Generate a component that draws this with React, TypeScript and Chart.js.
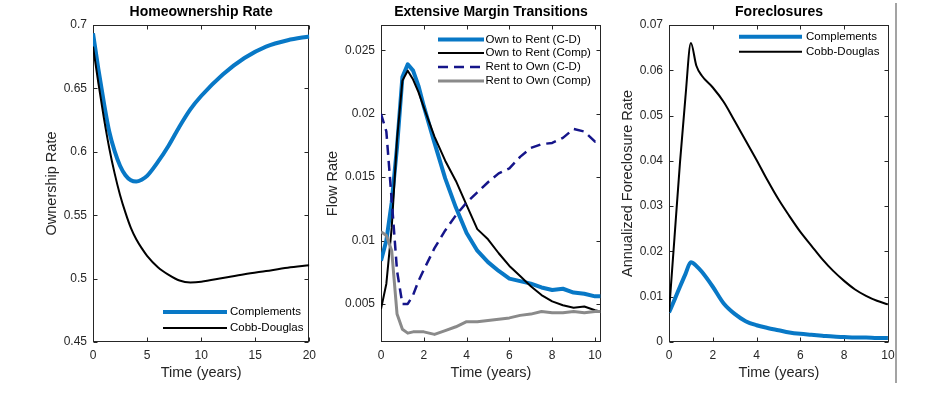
import React, { useEffect, useRef } from "react";
import { Chart, registerables } from "chart.js";

Chart.register(...registerables);

// ---------- Panel 1: Homeownership Rate ----------
const ownTime = [0, 0.5, 1, 1.5, 2, 2.5, 3, 3.5, 4, 4.5, 5, 6, 7, 8, 9, 10, 12, 14, 16, 18, 20];
const ownComplements = [0.6935, 0.665, 0.639, 0.616, 0.6005, 0.589, 0.5815, 0.5775, 0.5765, 0.578, 0.581, 0.592, 0.605, 0.62, 0.6335, 0.644, 0.661, 0.674, 0.683, 0.688, 0.691];
const ownCobbDouglas = [0.683, 0.654, 0.627, 0.603, 0.583, 0.566, 0.552, 0.54, 0.531, 0.524, 0.518, 0.509, 0.503, 0.4985, 0.497, 0.4975, 0.5005, 0.5035, 0.506, 0.5085, 0.5105];
const ownXTicks = [0, 5, 10, 15, 20];
const ownYTicks = [0.45, 0.5, 0.55, 0.6, 0.65, 0.7];

// ---------- Panel 2: Extensive Margin Transitions ----------
const flowTime = [0, 0.25, 0.5, 0.75, 1, 1.25, 1.5, 1.75, 2, 2.5, 3, 3.5, 4, 4.5, 5, 5.5, 6, 6.5, 7, 7.5, 8, 8.5, 9, 9.5, 10, 10.25];
const flowOwnToRentCD = [0.0084, 0.01, 0.013, 0.0174, 0.0229, 0.0239, 0.0234, 0.0222, 0.0206, 0.0177, 0.0149, 0.0126, 0.0106, 0.0092, 0.0083, 0.0076, 0.007, 0.0068, 0.0066, 0.0063, 0.0061, 0.0062, 0.0059, 0.0058, 0.0056, 0.0056];
const flowOwnToRentComp = [0.0046, 0.0066, 0.011, 0.018, 0.0226, 0.0234, 0.0227, 0.0217, 0.0205, 0.0182, 0.0163, 0.0147, 0.0128, 0.0109, 0.0101, 0.009, 0.008, 0.0072, 0.0064, 0.0057, 0.0052, 0.0049, 0.0047, 0.0048, 0.0045, 0.0044];
const flowRentToOwnCD = [0.02, 0.0186, 0.0132, 0.0076, 0.005, 0.005, 0.0057, 0.0068, 0.0077, 0.0094, 0.0108, 0.012, 0.013, 0.0138, 0.0146, 0.0153, 0.0157, 0.0166, 0.0173, 0.0176, 0.0177, 0.0181, 0.0188, 0.0186, 0.0178, 0.0178];
const flowRentToOwnComp = [0.0107, 0.0104, 0.0092, 0.0042, 0.003, 0.0027, 0.0028, 0.0028, 0.0028, 0.0026, 0.0029, 0.0032, 0.0036, 0.0036, 0.0037, 0.0038, 0.0039, 0.0041, 0.0042, 0.0044, 0.0043, 0.0043, 0.0044, 0.0043, 0.0044, 0.0044];
const flowXTicks = [0, 2, 4, 6, 8, 10];
const flowYTicks = [0.005, 0.01, 0.015, 0.02, 0.025];

// ---------- Panel 3: Foreclosures ----------
const fcTime = [0, 0.25, 0.5, 0.75, 1, 1.25, 1.5, 2, 2.5, 3, 3.5, 4, 4.5, 5, 5.5, 6, 6.5, 7, 7.5, 8, 8.5, 9, 9.5, 10];
const fcComplements = [0.0065, 0.0093, 0.0122, 0.015, 0.0176, 0.0168, 0.0155, 0.0122, 0.0085, 0.0062, 0.0046, 0.0037, 0.0031, 0.0026, 0.0021, 0.0018, 0.0016, 0.0014, 0.0012, 0.0011, 0.001, 0.001, 0.0009, 0.0009];
const fcCobbDouglas = [0.0066, 0.023, 0.0395, 0.054, 0.066, 0.061, 0.0588, 0.0562, 0.053, 0.0488, 0.0445, 0.0402, 0.0357, 0.0315, 0.0278, 0.0243, 0.0213, 0.0183, 0.0157, 0.0135, 0.0116, 0.0102, 0.0091, 0.0083];
const fcXTicks = [0, 2, 4, 6, 8, 10];
const fcYTicks = [0, 0.01, 0.02, 0.03, 0.04, 0.05, 0.06, 0.07];

// ---------- styling ----------
const FONT = '"Liberation Sans", Arial, Helvetica, sans-serif';
const AXIS_COLOR = "#262626";
const BLUE = "#0878c6";
const BLACK = "#000000";
const NAVY = "#15158a";
const GRAY = "#8a8a8a";
const H = 393;

const toPoints = (xs: number[], ys: number[]) => xs.map((x, i) => ({ x, y: ys[i] }));
const fmt = (v: number) => String(parseFloat(Number(v).toFixed(6)));

const framePlugin = {
  id: "frame",
  beforeDatasetsDraw(chart: any) {
    const { ctx, chartArea: a, scales } = chart;
    ctx.save();
    ctx.strokeStyle = AXIS_COLOR;
    ctx.lineWidth = 1;
    const L = Math.round(a.left) + 0.5;
    const R = Math.round(a.right) - 0.5;
    const T = Math.round(a.top) + 0.5;
    const B = Math.round(a.bottom) - 0.5;
    ctx.strokeRect(L, T, R - L, B - T);
    const tl = 4;
    ctx.beginPath();
    scales.x.ticks.forEach((t: any) => {
      const px = Math.round(scales.x.getPixelForValue(t.value)) + 0.5;
      ctx.moveTo(px, B);
      ctx.lineTo(px, B - tl);
      ctx.moveTo(px, T);
      ctx.lineTo(px, T + tl);
    });
    scales.y.ticks.forEach((t: any) => {
      const py = Math.round(scales.y.getPixelForValue(t.value)) + 0.5;
      ctx.moveTo(L, py);
      ctx.lineTo(L + tl, py);
      ctx.moveTo(R, py);
      ctx.lineTo(R - tl, py);
    });
    ctx.stroke();
    ctx.restore();
  },
};

const legendPlugin = {
  id: "panelLegend",
  afterDraw(chart: any, _args: any, opts: any) {
    const { ctx } = chart;
    ctx.save();
    chart.data.datasets.forEach((ds: any, i: number) => {
      const y = opts.rows[i];
      ctx.beginPath();
      ctx.strokeStyle = ds.borderColor;
      ctx.lineWidth = ds.borderWidth;
      ctx.setLineDash(ds.borderDash || []);
      ctx.moveTo(opts.x1, y);
      ctx.lineTo(opts.x2, y);
      ctx.stroke();
      ctx.setLineDash([]);
      ctx.fillStyle = "#000";
      ctx.font = `11.5px ${FONT}`;
      ctx.textBaseline = "middle";
      ctx.textAlign = "left";
      ctx.fillText(ds.label, opts.textX, y);
    });
    ctx.restore();
  },
};

type Series = { label: string; x: number[]; y: number[]; color: string; width: number; dash?: number[]; smooth?: boolean };

type PanelSpec = {
  left: number;
  width: number;
  yAxisWidth: number;
  padRight: number;
  yTitlePad: number;
  title: string;
  yTitle: string;
  xMin: number;
  xMax: number;
  yMin: number;
  yMax: number;
  xTicks: number[];
  yTicks: number[];
  series: Series[];
  legend: { x1: number; x2: number; textX: number; rows: number[] };
};

function buildConfig(spec: PanelSpec): any {
  const n = spec.series.length;
  return {
    type: "line",
    data: {
      datasets: spec.series.map((s, i) => ({
        label: s.label,
        data: toPoints(s.x, s.y),
        borderColor: s.color,
        backgroundColor: s.color,
        borderWidth: s.width,
        borderDash: s.dash || [],
        borderJoinStyle: "round",
        pointRadius: 0,
        fill: false,
        tension: s.smooth ? 0.4 : 0,
        cubicInterpolationMode: s.smooth ? "monotone" : "default",
        order: n - i,
      })),
    },
    options: {
      responsive: false,
      animation: false,
      events: [],
      layout: { padding: { left: 0, right: spec.padRight, top: 0, bottom: 0 } },
      plugins: {
        legend: { display: false },
        tooltip: { enabled: false },
        title: {
          display: true,
          text: spec.title,
          fullSize: false,
          color: "#000",
          font: { family: FONT, size: 14, weight: "bold", lineHeight: 1.2 },
          padding: { top: 4.1, bottom: 4.1 },
        },
        panelLegend: spec.legend,
      },
      scales: {
        x: {
          type: "linear",
          min: spec.xMin,
          max: spec.xMax,
          grid: { display: false, drawTicks: false },
          border: { display: false },
          ticks: {
            color: AXIS_COLOR,
            font: { family: FONT, size: 12 },
            padding: 6,
            maxRotation: 0,
            autoSkip: false,
            callback: (v: number) => fmt(v),
          },
          afterBuildTicks: (s: any) => {
            s.ticks = spec.xTicks.map((v) => ({ value: v }));
          },
          afterFit: (s: any) => {
            s.height = 51;
          },
          title: {
            display: true,
            text: "Time (years)",
            color: AXIS_COLOR,
            font: { family: FONT, size: 14.5, lineHeight: 1.2 },
            padding: { top: 0, bottom: 11.3 },
          },
        },
        y: {
          type: "linear",
          min: spec.yMin,
          max: spec.yMax,
          grid: { display: false, drawTicks: false },
          border: { display: false },
          ticks: {
            color: AXIS_COLOR,
            font: { family: FONT, size: 12 },
            padding: 6,
            autoSkip: false,
            callback: (v: number) => fmt(v),
          },
          afterBuildTicks: (s: any) => {
            s.ticks = spec.yTicks.map((v) => ({ value: v }));
          },
          afterFit: (s: any) => {
            s.width = spec.yAxisWidth;
          },
          title: {
            display: true,
            text: spec.yTitle,
            color: AXIS_COLOR,
            font: { family: FONT, size: 14.5, lineHeight: 1.2 },
            padding: { top: spec.yTitlePad, bottom: 0 },
          },
        },
      },
    },
    plugins: [framePlugin, legendPlugin],
  };
}

const panels: PanelSpec[] = [
  {
    left: 0,
    width: 322,
    yAxisWidth: 93,
    padRight: 10,
    yTitlePad: 43.3,
    title: "Homeownership Rate",
    yTitle: "Ownership Rate",
    xMin: 0,
    xMax: 20,
    yMin: 0.45,
    yMax: 0.7,
    xTicks: ownXTicks,
    yTicks: ownYTicks,
    series: [
      { label: "Complements", x: ownTime, y: ownComplements, color: BLUE, width: 4, smooth: true },
      { label: "Cobb-Douglas", x: ownTime, y: ownCobbDouglas, color: BLACK, width: 2, smooth: true },
    ],
    legend: { x1: 163, x2: 227, textX: 230, rows: [312, 328] },
  },
  {
    left: 322,
    width: 290,
    yAxisWidth: 59,
    padRight: 11,
    yTitlePad: 2,
    title: "Extensive Margin Transitions",
    yTitle: "Flow Rate",
    xMin: 0,
    xMax: 10.28,
    yMin: 0.002,
    yMax: 0.027,
    xTicks: flowXTicks,
    yTicks: flowYTicks,
    series: [
      { label: "Own to Rent (C-D)", x: flowTime, y: flowOwnToRentCD, color: BLUE, width: 4 },
      { label: "Own to Rent (Comp)", x: flowTime, y: flowOwnToRentComp, color: BLACK, width: 2 },
      { label: "Rent to Own (C-D)", x: flowTime, y: flowRentToOwnCD, color: NAVY, width: 2.5, dash: [10, 6] },
      { label: "Rent to Own (Comp)", x: flowTime, y: flowRentToOwnComp, color: GRAY, width: 3 },
    ],
    legend: { x1: 438 - 322, x2: 484 - 322, textX: 485.5 - 322, rows: [39.5, 53, 67, 81] },
  },
  {
    left: 612,
    width: 339,
    yAxisWidth: 57,
    padRight: 62,
    yTitlePad: 7.3,
    title: "Foreclosures",
    yTitle: "Annualized Foreclosure Rate",
    xMin: 0,
    xMax: 10.05,
    yMin: 0,
    yMax: 0.07,
    xTicks: fcXTicks,
    yTicks: fcYTicks,
    series: [
      { label: "Complements", x: fcTime, y: fcComplements, color: BLUE, width: 4, smooth: true },
      { label: "Cobb-Douglas", x: fcTime, y: fcCobbDouglas, color: BLACK, width: 2, smooth: true },
    ],
    legend: { x1: 739 - 612, x2: 802 - 612, textX: 806 - 612, rows: [36.7, 51.7] },
  },
];

function Panel({ spec }: { spec: PanelSpec }) {
  const ref = useRef<HTMLCanvasElement>(null);
  useEffect(() => {
    const chart = new Chart(ref.current as HTMLCanvasElement, buildConfig(spec));
    return () => chart.destroy();
  }, [spec]);
  return (
    <canvas
      ref={ref}
      width={spec.width}
      height={H}
      style={{ position: "absolute", left: spec.left, top: 0, width: spec.width, height: H }}
    />
  );
}

export default function App() {
  return (
    <div style={{ position: "fixed", left: 0, top: 0, width: 951, height: H, background: "#fff", overflow: "hidden" }}>
      {panels.map((p, i) => (
        <Panel key={i} spec={p} />
      ))}
      <div style={{ position: "absolute", left: 895, top: 3, width: 2, height: 380, background: "#a3a3a3" }} />
    </div>
  );
}
